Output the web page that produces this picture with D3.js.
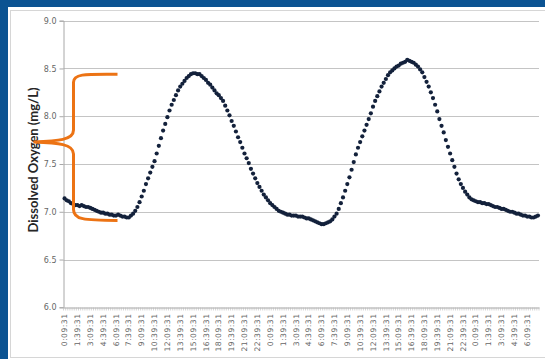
<!DOCTYPE html>
<html><head><meta charset="utf-8">
<script src="https://cdn.jsdelivr.net/npm/d3@7"></script>
<style>html,body{margin:0;padding:0;background:#0b5392;overflow:hidden}</style>
</head><body><svg id="c" width="545" height="359"></svg>
<script>
// ---- data ----
const tickLabels = ["0:09:31","1:39:31","3:09:31","4:39:31","6:09:31","7:39:31","9:09:31","10:39:31","12:09:31","13:39:31","15:09:31","16:39:31","18:09:31","19:39:31","21:09:31","22:39:31","0:09:31","1:39:31","3:09:31","4:39:31","6:09:31","7:39:31","9:09:31","10:39:31","12:09:31","13:39:31","15:09:31","16:39:31","18:09:31","19:39:31","21:09:31","22:39:31","0:09:31","1:39:31","3:09:31","4:39:31","6:09:31"];
const labelEvery = 6; // one label every 6 readings (15-minute readings)
const yTicks = [6.0, 6.5, 7.0, 7.5, 8.0, 8.5, 9.0];
const dissolvedOxygen = [
7.14,7.12,7.11,7.09,7.08,7.07,7.07,7.06,7.07,7.06,
7.05,7.05,7.04,7.03,7.02,7.01,7.00,6.99,6.99,6.98,
6.98,6.97,6.97,6.96,6.96,6.97,6.96,6.95,6.95,6.94,
6.94,6.96,6.98,7.01,7.05,7.10,7.16,7.22,7.29,7.35,
7.41,7.47,7.53,7.61,7.69,7.77,7.85,7.92,7.99,8.06,
8.12,8.17,8.22,8.27,8.31,8.34,8.37,8.40,8.42,8.44,
8.45,8.45,8.44,8.44,8.42,8.40,8.38,8.35,8.33,8.30,
8.27,8.24,8.22,8.19,8.16,8.11,8.06,8.01,7.95,7.90,
7.84,7.78,7.73,7.67,7.61,7.56,7.51,7.45,7.40,7.35,
7.30,7.26,7.22,7.18,7.15,7.12,7.09,7.07,7.05,7.03,
7.01,7.00,6.99,6.98,6.97,6.97,6.96,6.96,6.96,6.95,
6.95,6.95,6.94,6.93,6.93,6.92,6.91,6.90,6.89,6.88,
6.87,6.87,6.88,6.89,6.90,6.92,6.95,6.98,7.03,7.09,
7.15,7.22,7.29,7.36,7.44,7.52,7.60,7.67,7.73,7.79,
7.85,7.91,7.97,8.03,8.10,8.16,8.21,8.26,8.31,8.35,
8.39,8.43,8.46,8.48,8.50,8.52,8.53,8.55,8.56,8.57,
8.59,8.58,8.57,8.56,8.54,8.52,8.49,8.46,8.41,8.36,
8.31,8.25,8.19,8.12,8.05,7.97,7.90,7.83,7.75,7.68,
7.61,7.54,7.47,7.40,7.34,7.29,7.25,7.21,7.18,7.15,
7.13,7.12,7.11,7.10,7.10,7.09,7.09,7.08,7.08,7.07,
7.06,7.05,7.05,7.04,7.03,7.03,7.02,7.01,7.00,7.00,
6.99,6.98,6.98,6.97,6.96,6.96,6.95,6.95,6.94,6.94,
6.95,6.96];
const yTitle = "Dissolved Oxygen (mg/L)";
// annotation brace (in data units)
const braceTop = 8.44, braceTip = 7.73, braceBottom = 6.92;

// ---- layout ----
const svg = d3.select("#c");
const mLeft = 63.5, mRight = 539, mTop = 20.7, mBottom = 307.3;
svg.append("rect").attr("x",8).attr("y",7).attr("width",545).attr("height",360).attr("fill","#ffffff");
svg.append("rect").attr("x",10.5).attr("y",10.5).attr("width",545).attr("height",347).attr("fill","none").attr("stroke","#d6d6d6");

const x = d3.scaleBand().domain(d3.range(dissolvedOxygen.length)).range([mLeft, mRight]);
const y = d3.scaleLinear().domain([6, 9]).range([mBottom, mTop]);

// gridlines
svg.append("g").selectAll("line").data(yTicks.filter(v=>v>6)).join("line")
  .attr("x1", mLeft).attr("x2", mRight)
  .attr("y1", d=>Math.round(y(d))+0.5).attr("y2", d=>Math.round(y(d))+0.5)
  .attr("stroke","#c4c4c4").attr("stroke-width",1.2);

const tickFont = "'DejaVu Sans', Verdana, sans-serif";
// y axis
const ya = svg.append("g").attr("transform",`translate(${mLeft},0)`)
  .call(d3.axisLeft(y).tickValues(yTicks).tickFormat(d3.format(".1f")).tickSize(4).tickPadding(3));
ya.select(".domain").attr("stroke","#a8a8a8");
ya.selectAll(".tick line").attr("stroke","#a8a8a8");
ya.selectAll("text").attr("fill","#666").style("font-family",tickFont).style("font-size","8px");

// x axis
const xa = svg.append("g").attr("transform",`translate(0,${Math.round(mBottom)+0.5})`)
  .call(d3.axisBottom(x).tickValues(d3.range(0, dissolvedOxygen.length, labelEvery))
     .tickFormat((d,i)=>tickLabels[i] || "").tickSize(0).tickPadding(3));
xa.select(".domain").attr("stroke","#a8a8a8");
xa.selectAll("text").attr("fill","#666").style("font-family",tickFont).style("font-size","7.6px")
  .style("letter-spacing","0.5px")
  .attr("transform","rotate(-90)").attr("text-anchor","end").attr("x",-6).attr("y",0).attr("dy","0.35em");
// small tick marks at every category boundary
svg.append("g").selectAll("line").data(d3.range(dissolvedOxygen.length+1)).join("line")
  .attr("x1", d=>mLeft + d*x.step()).attr("x2", d=>mLeft + d*x.step())
  .attr("y1", Math.round(mBottom)+0.5).attr("y2", Math.round(mBottom)+3.5)
  .attr("stroke","#b8b8b8").attr("stroke-width",0.6);

// y title
svg.append("text").attr("transform",`translate(38,160) rotate(-90)`)
  .attr("text-anchor","middle").attr("fill","#262626")
  .style("font-family","Lato, 'Open Sans', sans-serif").style("font-weight","bold").style("font-size","13px")
  .text(yTitle);

// data points
svg.append("g").selectAll("circle").data(dissolvedOxygen).join("circle")
  .attr("cx",(d,i)=>x(i)+x.bandwidth()/2).attr("cy",d=>y(d)).attr("r",2.1)
  .attr("fill","#13213b");

// orange brace annotation
const bx = mLeft + 10, tipX = mLeft - 30, endX = mLeft + 54;
const yt = y(braceTop), ym = y(braceTip), yb = y(braceBottom);
const p = d3.path();
p.moveTo(endX, yt);
p.bezierCurveTo(endX-30, yt, bx, yt-1, bx, yt+8);
p.lineTo(bx, ym-12);
p.bezierCurveTo(bx, ym-2, bx-15, ym-1, tipX, ym);
p.bezierCurveTo(bx-15, ym+1, bx, ym+2, bx, ym+12);
p.lineTo(bx, yb-10);
p.bezierCurveTo(bx, yb, bx+10, yb+1, endX, yb+1);
svg.append("path").attr("d", p.toString()).attr("fill","none")
  .attr("stroke","#ec7314").attr("stroke-width",3).attr("stroke-linecap","butt");
</script></body></html>
